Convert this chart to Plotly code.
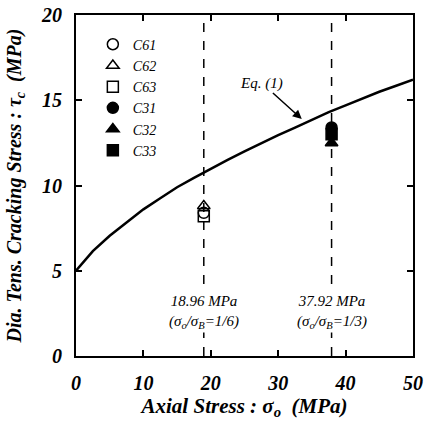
import plotly.graph_objects as go

# Eq. (1) curve
eq_x = [0, 2.5, 5, 7.5, 10, 12.5, 15, 17.5, 20, 22.5, 25, 27.5, 30, 32.5, 35, 37.5, 40, 42.5, 45, 47.5, 50]
eq_y = [5.0, 6.15, 7.05, 7.85, 8.6, 9.25, 9.9, 10.45, 11.0, 11.5, 12.0, 12.5, 12.95, 13.4, 13.85, 14.3, 14.7, 15.1, 15.5, 15.85, 16.2]

series_names = ["C61", "C62", "C63", "C31", "C32", "C33"]
series_x = [18.96, 18.96, 18.96, 37.92, 37.92, 37.92]
series_y = [8.4, 8.8, 8.2, 13.4, 12.5, 13.0]
series_symbols = ["circle-open", "triangle-up-open", "square-open", "circle", "triangle-up", "square-x"]

vlines_x = [18.96, 37.92]
vline_labels = ["18.96 MPa<br>(σ<sub>o</sub>/σ<sub>B</sub>=1/6)", "37.92 MPa<br>(σ<sub>o</sub>/σ<sub>B</sub>=1/3)"]

x_ticks = [0, 10, 20, 30, 40, 50]
y_ticks = [0, 5, 10, 15, 20]

FONT = "Liberation Serif"

fig = go.Figure()

for name, xv, yv, sym in zip(series_names, series_x, series_y, series_symbols):
    fig.add_trace(go.Scatter(
        x=[xv], y=[yv], mode="markers", name=name,
        marker=dict(symbol=sym, size=11, color="black",
                    line=dict(color="black", width=1.5)),
    ))

fig.add_trace(go.Scatter(x=eq_x, y=eq_y, mode="lines", line=dict(color="black", width=2.5),
                         showlegend=False))

for xv, lab in zip(vlines_x, vline_labels):
    fig.add_shape(type="line", x0=xv, x1=xv, y0=0, y1=20, xref="x", yref="y",
                  line=dict(color="black", width=1.5, dash="dash"), layer="below")
    fig.add_annotation(x=xv, y=2.6, xref="x", yref="y", text="<i>" + lab + "</i>", showarrow=False,
                       font=dict(family=FONT, size=15, color="black"),
                       bgcolor="white", align="center")

fig.add_annotation(x=33.5, y=13.9, ax=-40, ay=-36, xref="x", yref="y", text="<i>Eq. (1)</i>",
                   showarrow=True, arrowhead=2, arrowsize=1.2, arrowwidth=1.5, arrowcolor="black",
                   font=dict(family=FONT, size=15, color="black"))

axis_common = dict(showline=True, linecolor="black", linewidth=2, mirror="ticks",
                   ticks="inside", ticklen=6, tickwidth=1.5, tickcolor="black",
                   showgrid=False, zeroline=False, automargin=False,
                   tickfont=dict(family=FONT, size=20, color="black", weight="bold", style="italic"))

fig.update_xaxes(range=[0, 50], tickvals=x_ticks, ticklabelstandoff=8,
                 title=dict(text="<b><i>Axial Stress : σ<sub>o</sub>  (MPa)</i></b>", standoff=4,
                            font=dict(family=FONT, size=21, color="black")),
                 **axis_common)
fig.update_yaxes(range=[0, 20], tickvals=y_ticks, ticklabelstandoff=8,
                 title=dict(text="<b><i>Dia. Tens. Cracking Stress : τ<sub>c</sub>  (MPa)</i></b>", standoff=14,
                            font=dict(family=FONT, size=20, color="black")),
                 **axis_common)

fig.update_layout(
    width=426, height=422,
    margin=dict(l=76, r=13, t=15, b=66),
    plot_bgcolor="white", paper_bgcolor="white",
    font=dict(family=FONT),
    legend=dict(x=0.05, y=0.96, xanchor="left", yanchor="top", bgcolor="rgba(0,0,0,0)",
                font=dict(family=FONT, size=14, color="black", style="italic"),
                tracegroupgap=0, itemwidth=30),
)

fig.write_html("out.html")
